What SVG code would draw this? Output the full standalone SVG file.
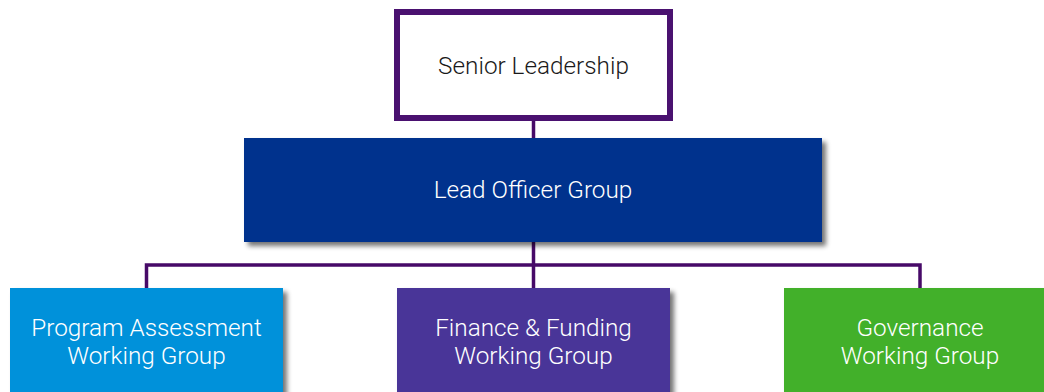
<svg xmlns="http://www.w3.org/2000/svg" width="1044" height="392" viewBox="0 0 1044 392">
<style>
.t{font-family:Roboto,"Liberation Sans",sans-serif;font-weight:300;font-size:24.3px;text-anchor:middle}
.w{fill:#ffffff}
.k{fill:#1a1a1a}
.c{stroke:#470a68;stroke-width:3.5;fill:none}
</style>
<defs>
<filter id="sh" x="-5%" y="-10%" width="115%" height="130%">
<feGaussianBlur in="SourceAlpha" stdDeviation="2.5"/>
<feOffset dx="4" dy="4" result="b"/>
<feComponentTransfer><feFuncA type="linear" slope="0.55"/></feComponentTransfer>
<feMerge><feMergeNode/><feMergeNode in="SourceGraphic"/></feMerge>
</filter>
</defs>
<rect width="1044" height="392" fill="#ffffff"/>
<g id="connectors">
<line class="c" x1="533.5" y1="118" x2="533.5" y2="140"/>
<line class="c" x1="533.5" y1="240" x2="533.5" y2="290"/>
<polyline class="c" points="146.5,290 146.5,265 920,265 920,290"/>
</g>
<g id="senior-leadership">
<rect x="397" y="12" width="273" height="106" fill="#ffffff" stroke="#4a1170" stroke-width="6"/>
<text class="t k" x="533.5" y="74">Senior Leadership</text>
</g>
<g id="lead-officer-group">
<rect x="244" y="138" width="578" height="104" fill="#00338d" filter="url(#sh)"/>
<text class="t w" x="533" y="198">Lead Officer Group</text>
</g>
<g id="program-assessment">
<rect x="10" y="288" width="273" height="110" fill="#0091da" filter="url(#sh)"/>
<text class="t w" x="146.5" y="336">Program Assessment</text>
<text class="t w" x="146.5" y="364">Working Group</text>
</g>
<g id="finance-funding">
<rect x="397" y="288" width="273" height="110" fill="#483698" filter="url(#sh)"/>
<text class="t w" x="533.5" y="336">Finance &amp; Funding</text>
<text class="t w" x="533.5" y="364">Working Group</text>
</g>
<g id="governance">
<rect x="784" y="288" width="273" height="110" fill="#43b02a" filter="url(#sh)"/>
<text class="t w" x="920" y="336">Governance</text>
<text class="t w" x="920" y="364">Working Group</text>
</g>
</svg>
